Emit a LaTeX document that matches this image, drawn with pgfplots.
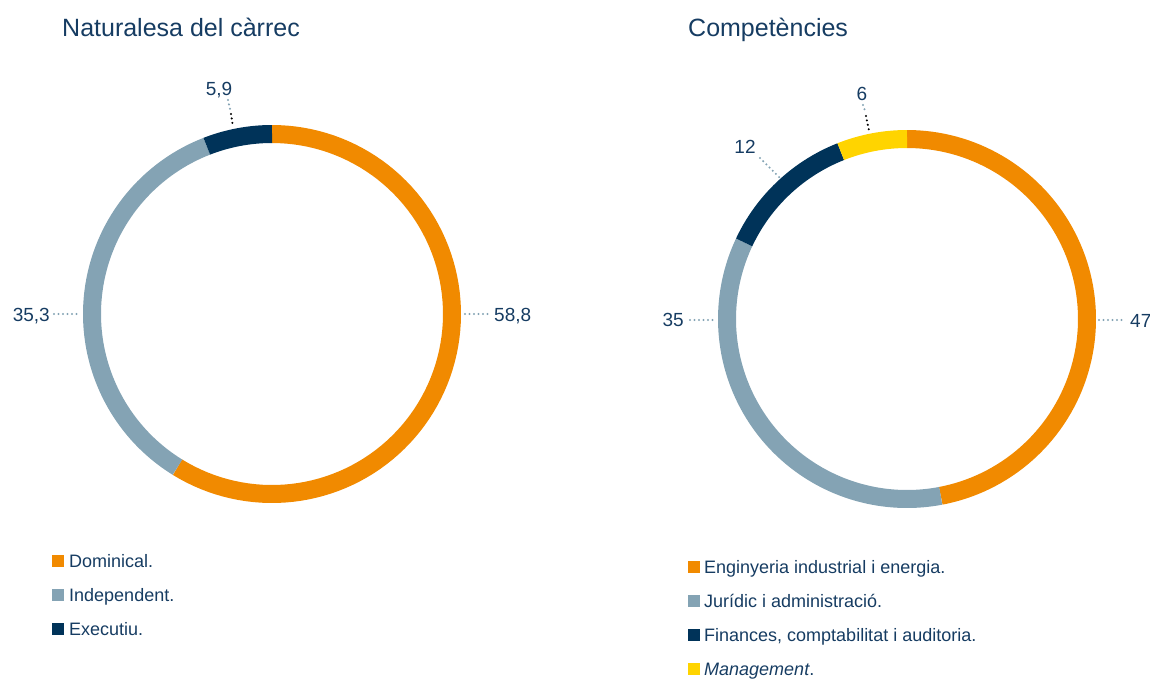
\documentclass[border=0pt]{standalone}
\usepackage{pgfplots}
\pgfplotsset{compat=1.18}
\usepackage{fontspec}
\setmainfont{Liberation Sans}

\definecolor{cOrange}{HTML}{F18A00}
\definecolor{cGrey}{HTML}{84A3B4}
\definecolor{cNavy}{HTML}{003359}
\definecolor{cYellow}{HTML}{FFD400}
\definecolor{cText}{HTML}{163C62}
\definecolor{cLead}{HTML}{84A3B4}

% ring segment: centre x, centre y, start %, end %, colour
\newcommand\seg[5]{%
  \addplot[#5, line width=18pt, domain=#3:#4, samples=90]
    ({#1+180*cos(90-3.6*x)}, {#2-180*sin(90-3.6*x)});}
% dotted leader
\newcommand\lead[5]{%
  \addplot[#5, line width=2.3pt, line cap=round, dash pattern=on 0pt off 4.5pt]
    coordinates {(#1,#2) (#3,#4)};}
% legend square
\newcommand\sq[3]{%
  \addplot[only marks, mark=square*, mark size=5.5pt, mark options={fill=#3, draw=#3, line width=0pt}]
    coordinates {(#1,#2)};}

\tikzset{
  ttl/.style={anchor=base west, inner sep=0pt, text=cText, font=\fontsize{25}{25}\selectfont},
  num/.style={inner sep=0pt, text=cText, font=\fontsize{19}{19}\selectfont},
  leg/.style={anchor=base west, inner sep=0pt, text=cText, font=\fontsize{18}{18}\selectfont},
}

\begin{document}
\begin{tikzpicture}
\begin{axis}[
  width=1150pt, height=678pt, scale only axis,
  xmin=0, xmax=1150, ymin=0, ymax=678, y dir=reverse,
  hide axis, clip=false,
]
% Naturalesa del carrec: 58.8 / 35.3 / 5.9
\seg{272}{314}{0}{58.8}{cOrange}
\seg{272}{314}{58.8}{94.1}{cGrey}
\seg{272}{314}{94.1}{100}{cNavy}

% Competencies: 47 / 35 / 12 / 6
\seg{907}{319}{0}{47}{cOrange}
\seg{907}{319}{47}{82}{cGrey}
\seg{907}{319}{82}{94}{cNavy}
\seg{907}{319}{94}{100}{cYellow}

% leaders
\lead{465}{314}{490}{314}{cLead}
\lead{54}{314}{80}{314}{cLead}
\lead{228}{100}{230}{109}{cLead}
\lead{231}{114}{233}{127}{black}
\lead{1099}{320}{1125}{320}{cLead}
\lead{690}{320}{715}{320}{cLead}
\lead{760}{158}{780}{178}{cLead}
\lead{863}{105}{865}{111}{cLead}
\lead{866}{116}{869}{131}{black}

% legend squares
\sq{57.5}{561}{cOrange}
\sq{57.5}{595}{cGrey}
\sq{57.5}{629}{cNavy}
\sq{693.5}{567}{cOrange}
\sq{693.5}{601}{cGrey}
\sq{693.5}{635}{cNavy}
\sq{693.5}{669}{cYellow}

% titles
\node[ttl] at (axis cs:62,36) {Naturalesa del càrrec};
\node[ttl] at (axis cs:688,36) {Competències};

% values
\node[num, anchor=base west] at (axis cs:494,321) {58,8};
\node[num, anchor=base east] at (axis cs:50,321) {35,3};
\node[num, anchor=base] at (axis cs:219,95) {5,9};
\node[num, anchor=base west] at (axis cs:1130,327) {47};
\node[num, anchor=base east] at (axis cs:684,326) {35};
\node[num, anchor=base] at (axis cs:745,153) {12};
\node[num, anchor=base] at (axis cs:862,100) {6};

% legend texts
\node[leg] at (axis cs:69,567) {Dominical.};
\node[leg] at (axis cs:69,601) {Independent.};
\node[leg] at (axis cs:69,635) {Executiu.};
\node[leg] at (axis cs:704,573) {Enginyeria industrial i energia.};
\node[leg] at (axis cs:704,607) {Jurídic i administració.};
\node[leg] at (axis cs:704,641) {Finances, comptabilitat i auditoria.};
\node[leg] at (axis cs:704,675) {\itshape Management\upshape.};
\end{axis}
\pgfresetboundingbox
\path (current axis.south west) rectangle (current axis.north east);
\end{tikzpicture}
\end{document}
